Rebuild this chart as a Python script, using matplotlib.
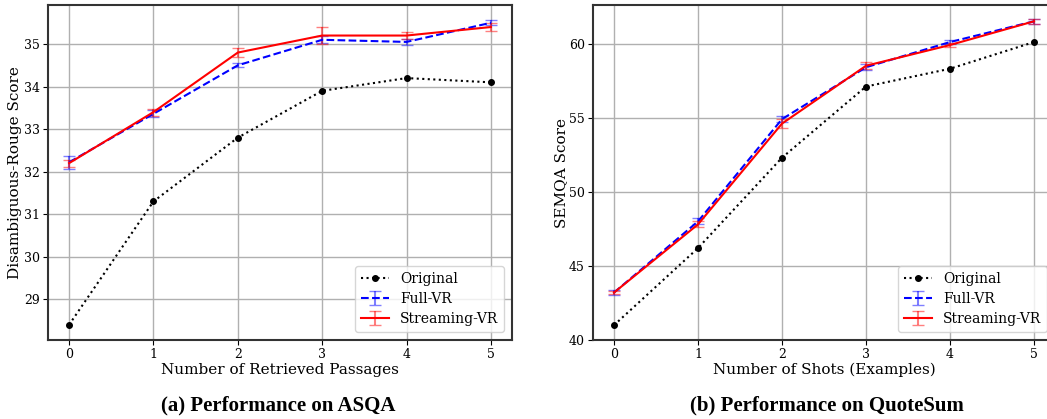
import numpy as np
import matplotlib.pyplot as plt

shots = [0, 1, 2, 3, 4, 5]

# ASQA
asqa_original = [28.4, 31.3, 32.8, 33.9, 34.2, 34.1]
asqa_full = [32.22, 33.36, 34.5, 35.1, 35.05, 35.5]
asqa_full_err = [0.15, 0.08, 0.05, 0.08, 0.07, 0.06]
asqa_stream = [32.2, 33.4, 34.8, 35.2, 35.2, 35.4]
asqa_stream_err = [0.08, 0.08, 0.1, 0.2, 0.08, 0.1]

# QuoteSum
qs_original = [41.0, 46.2, 52.3, 57.1, 58.3, 60.1]
qs_full = [43.2, 48.0, 54.9, 58.4, 60.1, 61.5]
qs_full_err = [0.15, 0.2, 0.2, 0.2, 0.15, 0.15]
qs_stream = [43.2, 47.8, 54.6, 58.5, 59.9, 61.5]
qs_stream_err = [0.1, 0.2, 0.3, 0.25, 0.15, 0.15]

plt.rcParams['font.family'] = 'DejaVu Serif'

fig = plt.figure(figsize=(10.47, 4.19), dpi=100)
W, H = 1047, 419
ax1 = fig.add_axes([48 / W, 1 - 340 / H, 464 / W, 335 / H])
ax2 = fig.add_axes([593 / W, 1 - 340 / H, 462 / W, 335 / H])


def draw(ax, orig, full, full_err, stream, stream_err, xlabel, ylabel, ylx):
    ax.plot(shots, orig, ':', color='black', marker='o', markersize=4,
            linewidth=1.5, label='Original')
    c = ax.errorbar(shots, full, yerr=full_err, fmt='--', color='blue',
                    linewidth=1.5, capsize=4, label='Full-VR')
    for p in c[1]:
        p.set_alpha(0.5)
    for p in c[2]:
        p.set_alpha(0.5)
    c = ax.errorbar(shots, stream, yerr=stream_err, fmt='-', color='red',
                    linewidth=1.5, capsize=4, label='Streaming-VR')
    for p in c[1]:
        p.set_alpha(0.5)
    for p in c[2]:
        p.set_alpha(0.5)
    ax.grid(True, color='#b0b0b0', linewidth=1)
    ax.set_axisbelow(True)
    ax.set_xticks(shots)
    ax.tick_params(labelsize=9, pad=2.5)
    ax.set_xlabel(xlabel, fontsize=11, labelpad=1)
    ax.set_ylabel(ylabel, fontsize=11)
    ax.yaxis.set_label_coords(ylx, 0.5)
    for s in ax.spines.values():
        s.set_color('#333333')
        s.set_linewidth(1.5)
    ax.legend(loc='lower right', fontsize=10, framealpha=0.8,
              labelspacing=0.45, borderaxespad=0.6)


draw(ax1, asqa_original, asqa_full, asqa_full_err, asqa_stream, asqa_stream_err,
     'Number of Retrieved Passages', 'Disambiguous-Rouge Score', -0.057)
draw(ax2, qs_original, qs_full, qs_full_err, qs_stream, qs_stream_err,
     'Number of Shots (Examples)', 'SEMQA Score', -0.053)
ax2.set_ylim(40, 62.6)

fig.text(278 / W, 1 - 405 / H, '(a) Performance on ASQA', ha='center',
         va='center', fontsize=15, fontweight='bold', family='Liberation Serif')
fig.text(827 / W, 1 - 405 / H, '(b) Performance on QuoteSum', ha='center',
         va='center', fontsize=15, fontweight='bold', family='Liberation Serif')

fig.savefig('out.png', dpi=100)
